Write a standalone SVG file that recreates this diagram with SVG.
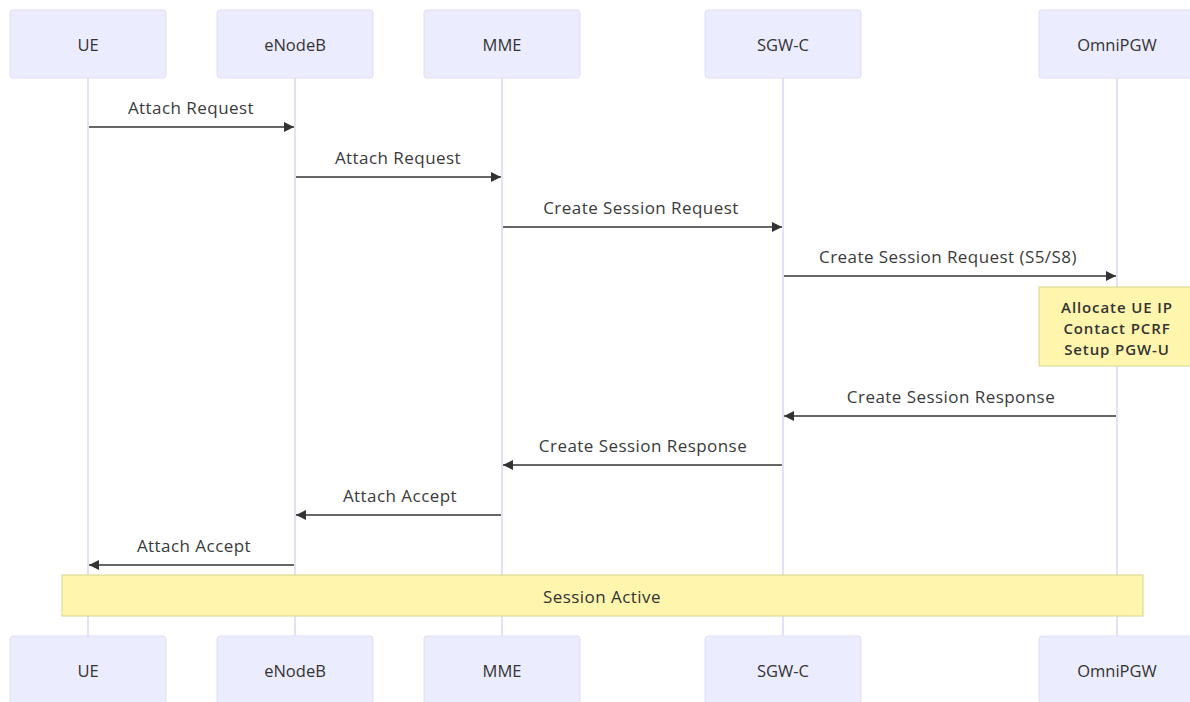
<svg xmlns="http://www.w3.org/2000/svg" width="1190" height="702" viewBox="0 0 1190 702">
<defs>
<marker id="ah" viewBox="0 0 10 10" refX="10" refY="5" markerWidth="10" markerHeight="10" markerUnits="userSpaceOnUse" orient="auto-start-reverse">
<path d="M0,0 L10,5 L0,10 z" fill="#333"/>
</marker>
<style>
.actor{fill:#ECECFF;stroke:#e2dcf6;stroke-width:1}
.life{stroke:#dcd4f4;stroke-width:1.5}
.at{font-family:"Open Sans","Liberation Sans",sans-serif;font-size:16.5px;font-weight:500;fill:#333;text-anchor:middle;dominant-baseline:central}
.mt{font-family:"Open Sans","Liberation Sans",sans-serif;font-size:17px;letter-spacing:0.45px;font-weight:500;fill:#3a3a3a;text-anchor:middle}
.msg{stroke:#333;stroke-width:1.5;fill:none}
.note{fill:#fff5ad;stroke:#d6d68a;stroke-width:1}
.nt{font-family:"Open Sans","Liberation Sans",sans-serif;font-size:15px;letter-spacing:0.9px;font-weight:600;fill:#333;text-anchor:middle;dominant-baseline:central}
.st{font-family:"Open Sans","Liberation Sans",sans-serif;font-size:17px;letter-spacing:0.45px;font-weight:500;fill:#333;text-anchor:middle;dominant-baseline:central}
</style>
</defs>
<rect width="1190" height="702" fill="#fff"/>
<g id="lifelines">
<line class="life" x1="88" y1="78" x2="88" y2="636"/>
<line class="life" x1="295" y1="78" x2="295" y2="636"/>
<line class="life" x1="502" y1="78" x2="502" y2="636"/>
<line class="life" x1="783" y1="78" x2="783" y2="636"/>
<line class="life" x1="1117" y1="78" x2="1117" y2="636"/>
</g>
<g id="actor-UE"><rect class="actor" x="10" y="10" width="156" height="68" rx="3"/><text class="at" x="88" y="44">UE</text><rect class="actor" x="10" y="636" width="156" height="68" rx="3"/><text class="at" x="88" y="670">UE</text></g>
<g id="actor-eNodeB"><rect class="actor" x="217" y="10" width="156" height="68" rx="3"/><text class="at" x="295" y="44">eNodeB</text><rect class="actor" x="217" y="636" width="156" height="68" rx="3"/><text class="at" x="295" y="670">eNodeB</text></g>
<g id="actor-MME"><rect class="actor" x="424" y="10" width="156" height="68" rx="3"/><text class="at" x="502" y="44">MME</text><rect class="actor" x="424" y="636" width="156" height="68" rx="3"/><text class="at" x="502" y="670">MME</text></g>
<g id="actor-SGW-C"><rect class="actor" x="705" y="10" width="156" height="68" rx="3"/><text class="at" x="783" y="44">SGW-C</text><rect class="actor" x="705" y="636" width="156" height="68" rx="3"/><text class="at" x="783" y="670">SGW-C</text></g>
<g id="actor-OmniPGW"><rect class="actor" x="1039" y="10" width="156" height="68" rx="3"/><text class="at" x="1117" y="44">OmniPGW</text><rect class="actor" x="1039" y="636" width="156" height="68" rx="3"/><text class="at" x="1117" y="670">OmniPGW</text></g>
<g id="connectors">
<line class="msg" x1="89" y1="127" x2="294" y2="127" marker-end="url(#ah)"/>
<line class="msg" x1="296" y1="177" x2="501" y2="177" marker-end="url(#ah)"/>
<line class="msg" x1="503" y1="227" x2="782" y2="227" marker-end="url(#ah)"/>
<line class="msg" x1="784" y1="276" x2="1116" y2="276" marker-end="url(#ah)"/>
<line class="msg" x1="1116" y1="416" x2="784" y2="416" marker-end="url(#ah)"/>
<line class="msg" x1="782" y1="465" x2="503" y2="465" marker-end="url(#ah)"/>
<line class="msg" x1="501" y1="515" x2="296" y2="515" marker-end="url(#ah)"/>
<line class="msg" x1="294" y1="565" x2="89" y2="565" marker-end="url(#ah)"/>
</g>
<g id="labels">
<text class="mt" x="191" y="114">Attach Request</text>
<text class="mt" x="398" y="164">Attach Request</text>
<text class="mt" x="641" y="214">Create Session Request</text>
<text class="mt" x="948" y="263">Create Session Request (S5/S8)</text>
<text class="mt" x="951" y="403">Create Session Response</text>
<text class="mt" x="643" y="452">Create Session Response</text>
<text class="mt" x="400" y="502">Attach Accept</text>
<text class="mt" x="194" y="552">Attach Accept</text>
</g>
<g id="note-pgw">
<rect class="note" x="1039" y="287" width="156" height="79"/>
<text class="nt" x="1117" y="307">Allocate UE IP</text>
<text class="nt" x="1117" y="328">Contact PCRF</text>
<text class="nt" x="1117" y="349">Setup PGW-U</text>
</g>
<g id="note-session">
<rect class="note" x="62" y="575" width="1081" height="41"/>
<text class="st" x="602" y="596">Session Active</text>
</g>
</svg>
